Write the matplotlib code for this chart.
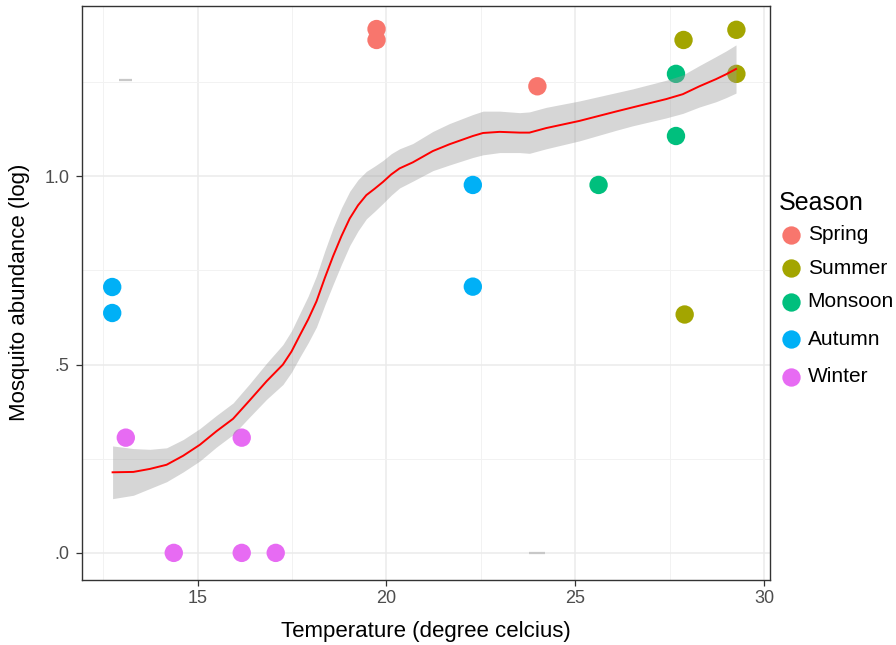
import matplotlib
matplotlib.use("Agg")
import matplotlib.pyplot as plt
from matplotlib.lines import Line2D
import numpy as np

plt.rcParams['font.family'] = ['Liberation Sans', 'DejaVu Sans']

# ---------------- data ----------------
seasons = ['Spring', 'Summer', 'Monsoon', 'Autumn', 'Winter']
season_colors = ['#F8766D', '#A3A500', '#00BF7D', '#00B0F6', '#E76BF3']

spring_x = [19.74, 19.74, 24.00]
spring_y = [1.391, 1.362, 1.239]
summer_x = [27.87, 29.27, 29.27, 27.90]
summer_y = [1.362, 1.389, 1.272, 0.633]
monsoon_x = [27.67, 27.67, 25.62]
monsoon_y = [1.272, 1.107, 0.977]
autumn_x = [12.74, 12.74, 22.29, 22.29]
autumn_y = [0.706, 0.637, 0.977, 0.707]
winter_x = [13.10, 14.37, 16.17, 16.17, 17.07]
winter_y = [0.306, 0.000, 0.306, 0.000, 0.000]

season_x = [spring_x, summer_x, monsoon_x, autumn_x, winter_x]
season_y = [spring_y, summer_y, monsoon_y, autumn_y, winter_y]

# smoothed trend and its confidence half-width
smooth_x = [12.75, 13.30, 13.74, 14.18, 14.62, 15.06, 15.50, 15.94, 16.38, 16.83,
            17.26, 17.49, 17.71, 17.93, 18.15, 18.37, 18.59, 18.81, 19.03, 19.25,
            19.47, 19.69, 19.91, 20.13, 20.35, 20.70, 21.23, 21.67, 22.29, 22.56,
            23.00, 23.53, 23.79, 24.23, 25.11, 26.08, 26.52, 27.41, 27.85, 28.29,
            28.73, 29.00, 29.26]
smooth_y = [0.214, 0.215, 0.223, 0.234, 0.258, 0.287, 0.323, 0.356, 0.405, 0.456,
            0.500, 0.535, 0.578, 0.620, 0.668, 0.730, 0.788, 0.841, 0.888, 0.923,
            0.950, 0.967, 0.985, 1.005, 1.021, 1.037, 1.067, 1.085, 1.107, 1.115,
            1.118, 1.116, 1.116, 1.128, 1.147, 1.172, 1.183, 1.205, 1.218, 1.239,
            1.258, 1.271, 1.285]
smooth_se = [0.070, 0.062, 0.052, 0.045, 0.043, 0.043, 0.042, 0.042, 0.044, 0.048,
             0.053, 0.055, 0.058, 0.062, 0.068, 0.072, 0.075, 0.075, 0.072, 0.068,
             0.063, 0.060, 0.057, 0.055, 0.052, 0.050, 0.052, 0.055, 0.057, 0.058,
             0.055, 0.053, 0.055, 0.055, 0.053, 0.050, 0.049, 0.050, 0.051, 0.055,
             0.060, 0.062, 0.064]

# small grey dash artefacts seen in the panel
dash_x0 = [12.93, 23.79]
dash_x1 = [13.27, 24.21]
dash_y = [1.255, 0.0]

x_major = [15, 20, 25, 30]
x_minor = [12.5, 17.5, 22.5, 27.5]
y_major = [0.0, 0.5, 1.0]
y_major_labels = ['.0', '.5', '1.0']
y_minor = [0.25, 0.75, 1.25]

# ---------------- figure ----------------
W, H = 896, 645
fig = plt.figure(figsize=(W / 100, H / 100), dpi=100)
ax = fig.add_axes([82 / W, (H - 580) / H, (770 - 82) / W, (580 - 5.7) / H])

ax.set_xlim(11.94, 30.16)
ax.set_ylim(-0.072, 1.453)

ax.set_xticks(x_major)
ax.set_xticks(x_minor, minor=True)
ax.set_yticks(y_major)
ax.set_yticklabels(y_major_labels)
ax.set_yticks(y_minor, minor=True)

ax.grid(True, which='major', color='#EBEBEB', lw=1.1, zorder=0)
ax.grid(True, which='minor', color='#F2F2F2', lw=0.7, zorder=0)
ax.set_axisbelow(True)

for s in ax.spines.values():
    s.set_color('#333333')
    s.set_linewidth(1.0)

ax.tick_params(which='major', length=4, width=0.9, color='#333333',
               labelcolor='#4D4D4D', labelsize=13)
ax.tick_params(axis='x', which='major', pad=3)
ax.tick_params(axis='y', which='major', pad=5)
ax.tick_params(which='minor', length=0)

for x0, x1, yy in zip(dash_x0, dash_x1, dash_y):
    ax.plot([x0, x1], [yy, yy], color='#C8C8C8', lw=1.6, zorder=1,
            solid_capstyle='butt')

for xs, ys, c in zip(season_x, season_y, season_colors):
    ax.scatter(xs, ys, s=175, color=c, edgecolors='none', zorder=2)

sx = np.array(smooth_x)
sy = np.array(smooth_y)
se = np.array(smooth_se)
ax.fill_between(sx, sy - se, sy + se, color='#999999', alpha=0.4, lw=0, zorder=3)
ax.plot(sx, sy, color='red', lw=1.4, zorder=4, solid_joinstyle='round')

ax.set_xlabel('Temperature (degree celcius)', fontsize=16, color='black')
ax.set_ylabel('Mosquito abundance (log)', fontsize=16, color='black')
ax.xaxis.set_label_coords((426 - 82) / 688, (580 - 632) / 574.3)
ax.xaxis.label.set_va('center')
ax.yaxis.set_label_coords((20 - 82) / 688, (580 - 292) / 574.3)
ax.yaxis.label.set_va('center')

# ---------------- legend ----------------
fig.text(779.3 / W, 1 - 203.3 / H, 'Season', fontsize=18, color='black',
         ha='left', va='center')
legend_y = [235, 268.3, 301.7, 339.3, 376.7]
for name, c, ly in zip(seasons, season_colors, legend_y):
    fig.add_artist(Line2D([790.7 / W], [1 - ly / H], marker='o', markersize=13.2,
                          color=c, markeredgewidth=0, linestyle='none',
                          transform=fig.transFigure))
    fig.text(807.7 / W, 1 - ly / H, name, fontsize=15, color='black',
             ha='left', va='center')

fig.savefig('out.png', dpi=100)
